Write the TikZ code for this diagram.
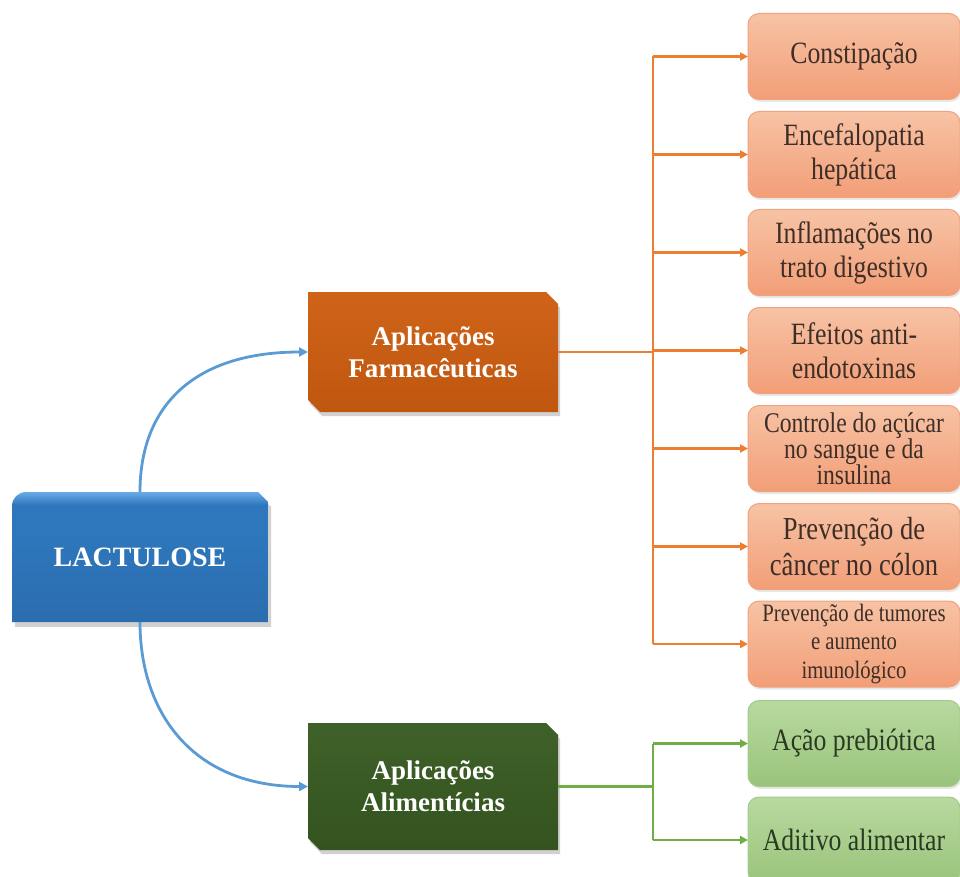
\documentclass[tikz,border=0pt]{standalone}
\usepackage{fontspec}
\setmainfont{Liberation Serif}
\newfontfamily\boxfont{Liberation Serif}[FakeStretch=0.83]
\usetikzlibrary{arrows.meta,backgrounds,shadows}
\definecolor{orln}{HTML}{ED7D31}
\definecolor{grln}{HTML}{70AD47}
\definecolor{blln}{HTML}{5B9BD5}
\definecolor{ortop}{HTML}{F7C3A5}
\definecolor{orbot}{HTML}{F29E77}
\definecolor{orbd}{HTML}{F0A37E}
\definecolor{ortx}{HTML}{3E2E28}
\definecolor{grtop}{HTML}{B8D9A0}
\definecolor{grbot}{HTML}{99C47B}
\definecolor{grbd}{HTML}{A3CB88}
\definecolor{grtx}{HTML}{2A3A22}
\definecolor{lactop}{HTML}{6AAAE8}
\definecolor{lacmid}{HTML}{2E77BC}
\definecolor{lacbot}{HTML}{2B6DAF}
\definecolor{farmtop}{HTML}{CF6419}
\definecolor{farmbot}{HTML}{C0570F}
\definecolor{alimtop}{HTML}{3F6129}
\definecolor{alimbot}{HTML}{34531F}
\pgfdeclareverticalshading{lacshade}{100bp}{color(0bp)=(lacbot); color(25bp)=(lacbot); color(60bp)=(lacmid); color(70bp)=(lacmid); color(75bp)=(lactop); color(100bp)=(lactop)}
\begin{document}
\begin{tikzpicture}[x=1pt,y=-1pt,
  leafbox/.style={font=\boxfont\fontsize{31}{34}\selectfont, align=center,
    minimum width=212pt, minimum height=86pt, inner sep=0pt, outer sep=0pt,
    rounded corners=11pt, line width=1pt,
    drop shadow={shadow xshift=1.5pt, shadow yshift=-2.5pt, opacity=0.18}},
  orbox/.style={leafbox, text=ortx, draw=orbd, top color=ortop, bottom color=orbot},
  grbox/.style={leafbox, text=grtx, draw=grbd, top color=grtop, bottom color=grbot},
  headtext/.style={font=\bfseries\fontsize{27}{32}\selectfont, text=white, align=center,
    inner sep=0pt, outer sep=0pt},
  orline/.style={draw=orln, line width=2.8pt},
  grline/.style={draw=grln, line width=2.8pt},
  orarrow/.style={orline, -{Triangle[length=8pt,width=8pt]}},
  grarrow/.style={grline, -{Triangle[length=8pt,width=8pt]}},
  blarrow/.style={draw=blln, line width=2.8pt, -{Triangle[length=9pt,width=9pt]}},
  shadowfill/.style={fill=black, opacity=0.18}
]
\useasboundingbox (0,0) rectangle (960,877);

% ---------- main nodes ----------
\node[headtext, minimum width=256pt, minimum height=130pt, font=\bfseries\fontsize{28}{32}\selectfont] (lac) at (140,557) {LACTULOSE};
\node[headtext, minimum width=250pt, minimum height=120pt] (farm) at (433,352) {Aplicações\\Farmacêuticas};
\node[headtext, minimum width=250pt, minimum height=127pt] (alim) at (433,786.5) {Aplicações\\Alimentícias};

\begin{pgfonlayer}{background}
  % LACTULOSE shape: rounded top-left, snipped top-right
  \fill[shadowfill] ([xshift=3pt,yshift=-5pt]lac.north west) -- ([xshift=-7pt,yshift=-5pt]lac.north east)
     -- ([xshift=3pt,yshift=-15pt]lac.north east) -- ([xshift=3pt,yshift=-5pt]lac.south east)
     -- ([xshift=3pt,yshift=-5pt]lac.south west) -- cycle;
  \shade[shading=lacshade]
     ([yshift=-14pt]lac.north west) arc[start angle=180, end angle=90, radius=14pt]
     -- ([xshift=-10pt]lac.north east) -- ([yshift=-10pt]lac.north east)
     -- (lac.south east) -- (lac.south west) -- cycle;
  % Farmaceuticas: snipped top-right and bottom-left
  \fill[shadowfill] ([xshift=2pt,yshift=-4pt]farm.north west) -- ([xshift=-10pt,yshift=-4pt]farm.north east)
     -- ([xshift=2pt,yshift=-16pt]farm.north east) -- ([xshift=2pt,yshift=-4pt]farm.south east)
     -- ([xshift=14pt,yshift=-4pt]farm.south west) -- ([xshift=2pt,yshift=8pt]farm.south west) -- cycle;
  \shade[top color=farmtop, bottom color=farmbot]
     (farm.north west) -- ([xshift=-12pt]farm.north east) -- ([yshift=-12pt]farm.north east)
     -- (farm.south east) -- ([xshift=12pt]farm.south west) -- ([yshift=12pt]farm.south west) -- cycle;
  % Alimenticias
  \fill[shadowfill] ([xshift=2pt,yshift=-4pt]alim.north west) -- ([xshift=-10pt,yshift=-4pt]alim.north east)
     -- ([xshift=2pt,yshift=-16pt]alim.north east) -- ([xshift=2pt,yshift=-4pt]alim.south east)
     -- ([xshift=14pt,yshift=-4pt]alim.south west) -- ([xshift=2pt,yshift=8pt]alim.south west) -- cycle;
  \shade[top color=alimtop, bottom color=alimbot]
     (alim.north west) -- ([xshift=-12pt]alim.north east) -- ([yshift=-12pt]alim.north east)
     -- (alim.south east) -- ([xshift=12pt]alim.south west) -- ([yshift=12pt]alim.south west) -- cycle;
\end{pgfonlayer}

% ---------- leaf boxes ----------
\node[orbox] (c1) at (854,56.5) {Constipação};
\node[orbox] (c2) at (854,154.5) {Encefalopatia\\hepática};
\node[orbox] (c3) at (854,252.5) {Inflamações no\\trato digestivo};
\node[orbox] (c4) at (854,350.5) {Efeitos anti-\\endotoxinas};
\node[orbox, font=\boxfont\fontsize{28.5}{26}\selectfont] (c5) at (854,448.5) {Controle do açúcar\\no sangue e da\\insulina};
\node[orbox, font=\boxfont\fontsize{32}{36}\selectfont] (c6) at (854,546.5) {Prevenção de\\câncer no cólon};
\node[orbox, font=\boxfont\fontsize{25}{28.5}\selectfont] (c7) at (854,644) {Prevenção de tumores\\e aumento\\imunológico};
\node[grbox] (g1) at (854,743.5) {Ação prebiótica};
\node[grbox] (g2) at (854,840) {Aditivo alimentar};

% ---------- connectors ----------
\coordinate (ot) at (653,352);
\coordinate (gt) at (653,786.5);

\draw[orline] (farm.east) -- (ot);
\draw[orline] (ot |- c1.west) -- (ot |- c7.west);
\foreach \n in {c1,c2,c3,c4,c5,c6,c7}
  \draw[orarrow] (ot |- \n.west) -- (\n.west);

\draw[grline] (alim.east) -- (gt);
\draw[grline] (gt |- g1.west) -- (gt |- g2.west);
\foreach \n in {g1,g2}
  \draw[grarrow] (gt |- \n.west) -- (\n.west);

\draw[blarrow] (lac.north) .. controls (140,405) and (195,352) .. (farm.west);
\draw[blarrow] (lac.south) .. controls (140,715) and (195,786.5) .. (alim.west);
\end{tikzpicture}
\end{document}
